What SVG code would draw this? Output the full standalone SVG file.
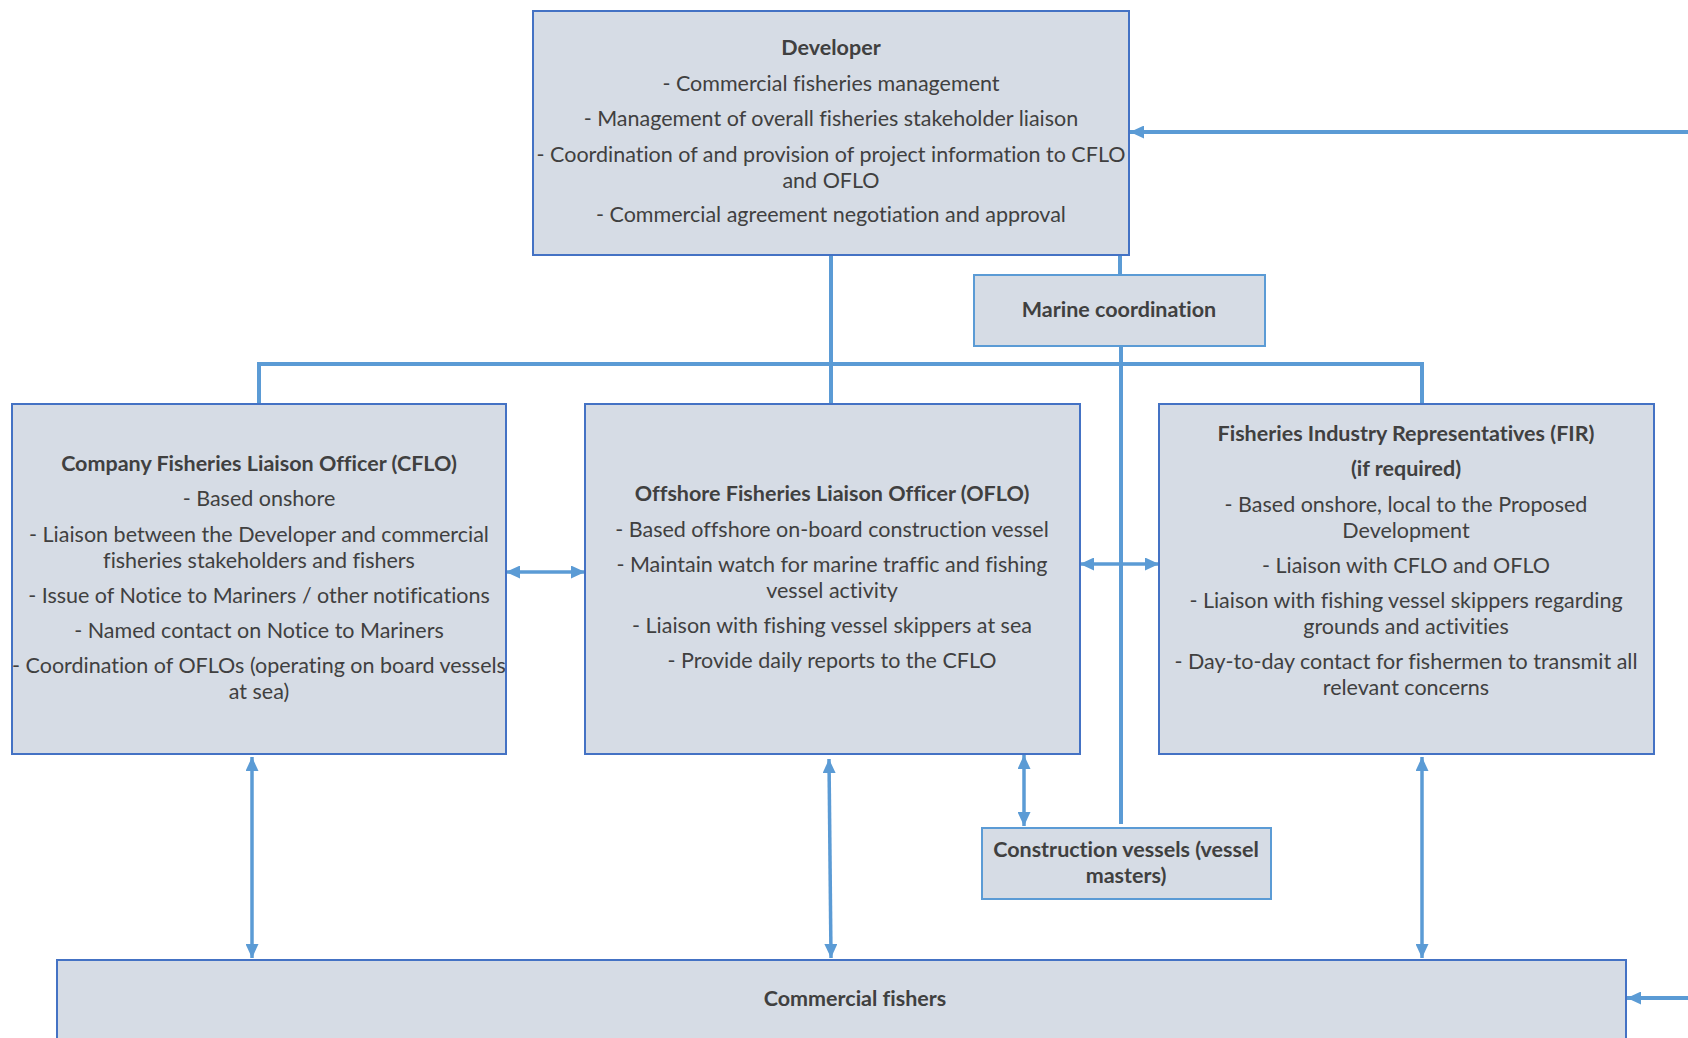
<svg xmlns="http://www.w3.org/2000/svg" width="1688" height="1038" viewBox="0 0 1688 1038">
<defs>
<style>
.box{fill:#D6DCE5;stroke:#4472C4;stroke-width:2}
.sbox{fill:#D6DCE5;stroke:#5B9BD5;stroke-width:2}
.t{font-family:Lato,"Liberation Sans",sans-serif;font-size:21.5px;fill:#404040;text-anchor:middle;font-variant-ligatures:none}
.b{font-weight:bold}
.ln{stroke:#5B9BD5;stroke-width:4;fill:none}
.ar{stroke:#5B9BD5;stroke-width:3.5;fill:none}
</style>
<marker id="ah" markerUnits="userSpaceOnUse" markerWidth="15" markerHeight="13" refX="14" refY="6.5" orient="auto-start-reverse">
<path d="M0,0 L14,6.5 L0,13 z" fill="#5B9BD5"/>
</marker>
</defs>
<rect width="1688" height="1038" fill="#FFFFFF"/>

<g id="connectors">
<line class="ln" x1="831" y1="255" x2="831" y2="404"/>
<polyline class="ln" points="259,404 259,364 1422,364 1422,404"/>
<line class="ln" x1="1120" y1="255" x2="1120" y2="275"/>
<line class="ln" x1="1121" y1="346" x2="1121" y2="824"/>
<line class="ar" x1="506" y1="572" x2="585" y2="572" marker-start="url(#ah)" marker-end="url(#ah)"/>
<line class="ar" x1="1080" y1="564" x2="1159" y2="564" marker-start="url(#ah)" marker-end="url(#ah)"/>
<line class="ar" x1="1024" y1="755" x2="1024" y2="826" marker-start="url(#ah)" marker-end="url(#ah)"/>
<line class="ar" x1="252" y1="757" x2="252" y2="958" marker-start="url(#ah)" marker-end="url(#ah)"/>
<line class="ar" x1="829" y1="759" x2="831" y2="958" marker-start="url(#ah)" marker-end="url(#ah)"/>
<line class="ar" x1="1422" y1="757" x2="1422" y2="958" marker-start="url(#ah)" marker-end="url(#ah)"/>
<line class="ln" x1="1688" y1="132" x2="1130" y2="132" marker-end="url(#ah)"/>
<line class="ln" x1="1688" y1="998" x2="1627" y2="998" marker-end="url(#ah)"/>
</g>

<g id="developer">
<rect class="box" x="533" y="11" width="596" height="244"/>
<text class="t b" x="831" y="55">Developer</text>
<text class="t" x="831" y="91">- Commercial fisheries management</text>
<text class="t" x="831" y="126">- Management of overall fisheries stakeholder liaison</text>
<text class="t" x="831" y="162">- Coordination of and provision of project information to CFLO</text>
<text class="t" x="831" y="188">and OFLO</text>
<text class="t" x="831" y="222">- Commercial agreement negotiation and approval</text>
</g>

<g id="marine-coordination">
<rect class="sbox" x="974" y="275" width="291" height="71"/>
<text class="t b" x="1119" y="317">Marine coordination</text>
</g>

<g id="cflo">
<rect class="box" x="12" y="404" width="494" height="350"/>
<text class="t b" x="259" y="471">Company Fisheries Liaison Officer (CFLO)</text>
<text class="t" x="259" y="506">- Based onshore</text>
<text class="t" x="259" y="542">- Liaison between the Developer and commercial</text>
<text class="t" x="259" y="568">fisheries stakeholders and fishers</text>
<text class="t" x="259" y="603">- Issue of Notice to Mariners / other notifications</text>
<text class="t" x="259" y="638">- Named contact on Notice to Mariners</text>
<text class="t" x="259" y="673">- Coordination of OFLOs (operating on board vessels</text>
<text class="t" x="259" y="699">at sea)</text>
</g>

<g id="oflo">
<rect class="box" x="585" y="404" width="495" height="350"/>
<text class="t b" x="832" y="501">Offshore Fisheries Liaison Officer (OFLO)</text>
<text class="t" x="832" y="537">- Based offshore on-board construction vessel</text>
<text class="t" x="832" y="572">- Maintain watch for marine traffic and fishing</text>
<text class="t" x="832" y="598">vessel activity</text>
<text class="t" x="832" y="633">- Liaison with fishing vessel skippers at sea</text>
<text class="t" x="832" y="668">- Provide daily reports to the CFLO</text>
</g>

<g id="fir">
<rect class="box" x="1159" y="404" width="495" height="350"/>
<text class="t b" x="1406" y="441">Fisheries Industry Representatives (FIR)</text>
<text class="t b" x="1406" y="476">(if required)</text>
<text class="t" x="1406" y="512">- Based onshore, local to the Proposed</text>
<text class="t" x="1406" y="538">Development</text>
<text class="t" x="1406" y="573">- Liaison with CFLO and OFLO</text>
<text class="t" x="1406" y="608">- Liaison with fishing vessel skippers regarding</text>
<text class="t" x="1406" y="634">grounds and activities</text>
<text class="t" x="1406" y="669">- Day-to-day contact for fishermen to transmit all</text>
<text class="t" x="1406" y="695">relevant concerns</text>
</g>

<g id="construction-vessels">
<rect class="sbox" x="982" y="828" width="289" height="71"/>
<text class="t b" x="1126" y="857">Construction vessels (vessel</text>
<text class="t b" x="1126" y="883">masters)</text>
</g>

<g id="commercial-fishers">
<rect class="box" x="57" y="960" width="1569" height="100"/>
<text class="t b" x="855" y="1006">Commercial fishers</text>
</g>
</svg>
